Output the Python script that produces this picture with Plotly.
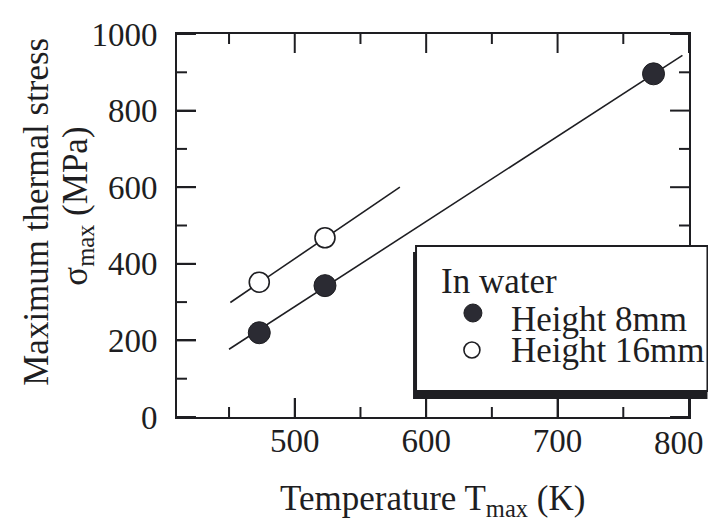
import plotly.graph_objects as go

# Measured maximum thermal stress vs. peak temperature (quenched in water)
temp_8mm = [473, 523, 773]
stress_8mm = [220, 343, 896]
temp_16mm = [473, 523]
stress_16mm = [352, 468]

# Linear fits drawn through each series
fit_8mm_temp = [450, 795]
fit_8mm_stress = [177, 944]
fit_16mm_temp = [451, 580]
fit_16mm_stress = [299, 600]

legend_title = "In water"
name_8mm = "Height 8mm"
name_16mm = "Height 16mm"

x_ticks = [500, 600, 700, 800]
x_minor_ticks = [450, 550, 650, 750]
y_ticks = [0, 200, 400, 600, 800, 1000]
y_minor_ticks = [100, 300, 500, 700, 900]
x_range = [410.4, 800]
y_range = [0, 1000]

INK = "#1e1e22"
FONT = "Liberation Serif"
MAJOR_LEN, MINOR_LEN, TICK_W = 19, 10, 2

W, H = 708, 525
L, R, T, B = 176.5, 689.5, 34, 417


def px(x):
    return (x - L) / (R - L)


def py(y):
    return (B - y) / (B - T)


# data units per screen pixel along each axis
x_per_px = (x_range[1] - x_range[0]) / (R - L)
y_per_px = (y_range[1] - y_range[0]) / (B - T)

# Inward tick marks on all four sides, as one broken polyline in data space
tick_x, tick_y = [], []
for vals, length in ((x_ticks, MAJOR_LEN), (x_minor_ticks, MINOR_LEN)):
    dy = length * y_per_px
    for v in vals:
        tick_x += [v, v, None, v, v, None]
        tick_y += [y_range[0], y_range[0] + dy, None, y_range[1], y_range[1] - dy, None]
for vals, length in ((y_ticks, MAJOR_LEN), (y_minor_ticks, MINOR_LEN)):
    dx = length * x_per_px
    for v in vals:
        tick_x += [x_range[0], x_range[0] + dx, None, x_range[1], x_range[1] - dx, None]
        tick_y += [v, v, None, v, v, None]

fig = go.Figure()

fig.add_trace(go.Scatter(x=tick_x, y=tick_y, mode="lines", connectgaps=False,
                         line=dict(color=INK, width=TICK_W), showlegend=False,
                         hoverinfo="skip"))
fig.add_trace(go.Scatter(x=fit_8mm_temp, y=fit_8mm_stress, mode="lines",
                         line=dict(color=INK, width=1.6), showlegend=False,
                         hoverinfo="skip"))
fig.add_trace(go.Scatter(x=fit_16mm_temp, y=fit_16mm_stress, mode="lines",
                         line=dict(color=INK, width=1.6), showlegend=False,
                         hoverinfo="skip"))
fig.add_trace(go.Scatter(x=temp_8mm, y=stress_8mm, mode="markers", name=name_8mm,
                         marker=dict(symbol="circle", size=22, color="#2b2b33",
                                     line=dict(color=INK, width=1)),
                         showlegend=False))
fig.add_trace(go.Scatter(x=temp_16mm, y=stress_16mm, mode="markers", name=name_16mm,
                         marker=dict(symbol="circle", size=20, color="white",
                                     line=dict(color=INK, width=1.6)),
                         showlegend=False))

label_font = dict(family=FONT, size=33, color=INK)
frame = dict(showgrid=False, zeroline=False, showline=True, linecolor=INK,
             linewidth=2, mirror=True, ticks="inside", ticklen=MAJOR_LEN,
             tickwidth=TICK_W, tickcolor=INK, tickfont=label_font)

fig.update_layout(
    xaxis=dict(range=x_range, tickvals=x_ticks, ticklabelstandoff=-7, **frame),
    yaxis=dict(range=y_range, tickvals=y_ticks, ticklabelstandoff=11, **frame),
)

annotations = [
    # Axis titles
    dict(text="Temperature T<sub>max</sub> (K)", x=px(432), y=py(500),
         xanchor="center", yanchor="middle"),
    dict(text="Maximum thermal stress", x=px(35), y=py(212), textangle=-90,
         xanchor="center", yanchor="middle"),
    dict(text="σ<sub>max</sub> (MPa)", x=px(76), y=py(206), textangle=-90,
         xanchor="center", yanchor="middle"),
    # Legend text
    dict(text=legend_title, x=px(439), y=py(281), xanchor="left", yanchor="middle"),
    dict(text=name_8mm, x=px(509), y=py(319), xanchor="left", yanchor="middle"),
    dict(text=name_16mm, x=px(509), y=py(350), xanchor="left", yanchor="middle"),
]
for a in annotations:
    a.update(xref="paper", yref="paper", showarrow=False,
             font=dict(family=FONT, size=35, color=INK))

# The last tick label sits against the page edge
annotations.append(dict(text=str(x_ticks[-1]), xref="paper", yref="paper",
                        x=px(707), y=py(443), xanchor="right", yanchor="middle",
                        showarrow=False, font=label_font))

# Legend frame with a heavy shadow along the bottom
shapes = [
    dict(type="rect", xref="paper", yref="paper",
         x0=px(413), x1=px(708), y0=py(399), y1=py(252),
         fillcolor=INK, line=dict(width=0), layer="above"),
    dict(type="rect", xref="paper", yref="paper",
         x0=px(416), x1=px(708), y0=py(391), y1=py(246),
         fillcolor="white", line=dict(color=INK, width=2), layer="above"),
    dict(type="circle", xref="paper", yref="paper", xsizemode="pixel",
         ysizemode="pixel", xanchor=px(473), yanchor=py(313),
         x0=-9, x1=9, y0=-9, y1=9, fillcolor="#2b2b33",
         line=dict(color=INK, width=1), layer="above"),
    dict(type="circle", xref="paper", yref="paper", xsizemode="pixel",
         ysizemode="pixel", xanchor=px(472), yanchor=py(350),
         x0=-8, x1=8, y0=-8, y1=8, fillcolor="white",
         line=dict(color=INK, width=1.6), layer="above"),
]

fig.update_layout(
    width=W, height=H,
    margin=dict(l=L, r=W - R, t=T, b=H - B),
    paper_bgcolor="white", plot_bgcolor="white",
    showlegend=False,
    annotations=annotations,
    shapes=shapes,
)

fig.write_html("out.html")
